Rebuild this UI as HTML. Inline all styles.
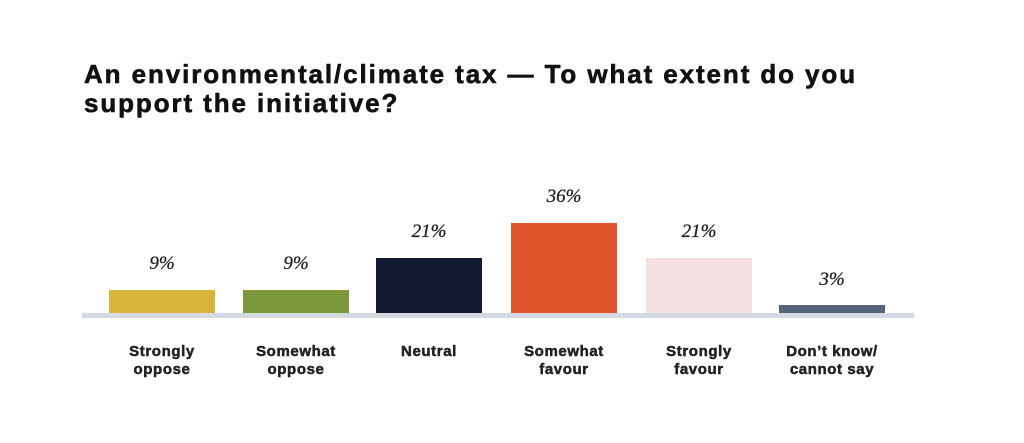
<!DOCTYPE html>
<html><head><meta charset="utf-8"><style>
body{margin:0;width:1024px;height:443px;background:#fff;position:relative;overflow:hidden;font-family:"Liberation Sans",sans-serif}
.t{position:absolute;left:84px;top:60px;font-size:26px;font-weight:900;color:#111;line-height:29px;letter-spacing:1.9px;-webkit-text-stroke:0.6px #111}
.b{position:absolute;width:106px}
.v{position:absolute;width:106px;text-align:center;font-family:"Liberation Serif",serif;font-style:italic;font-size:19px;color:#222;-webkit-text-stroke:0.3px #222}
.l{position:absolute;width:160px;text-align:center;font-weight:bold;font-size:15px;line-height:18px;color:#222;letter-spacing:0.6px;-webkit-text-stroke:0.5px #222}
.ax{position:absolute;left:82px;top:313px;width:832px;height:5px;background:#d5dae2}
</style></head><body>
<div class="t">An environmental/climate tax — To what extent do you<br>support the initiative?</div>
<div class="b" style="left:109px;top:290px;height:23px;background:#d9b43a"></div>
<div class="b" style="left:243px;top:290px;height:23px;background:#7b983b"></div>
<div class="b" style="left:376px;top:258px;height:55px;background:#151a33"></div>
<div class="b" style="left:511px;top:223px;height:90px;background:#e0552c"></div>
<div class="b" style="left:646px;top:258px;height:55px;background:#f6dfe0"></div>
<div class="b" style="left:779px;top:305px;height:8px;background:#56647a"></div>
<div class="ax"></div>
<div class="v" style="left:109px;top:253px">9%</div>
<div class="v" style="left:243px;top:253px">9%</div>
<div class="v" style="left:376px;top:221px">21%</div>
<div class="v" style="left:511px;top:186px">36%</div>
<div class="v" style="left:646px;top:221px">21%</div>
<div class="v" style="left:779px;top:269px">3%</div>
<div class="l" style="left:82px;top:343px">Strongly<br>oppose</div>
<div class="l" style="left:216px;top:343px">Somewhat<br>oppose</div>
<div class="l" style="left:349px;top:343px">Neutral</div>
<div class="l" style="left:484px;top:343px">Somewhat<br>favour</div>
<div class="l" style="left:619px;top:343px">Strongly<br>favour</div>
<div class="l" style="left:752px;top:343px">Don’t know/<br>cannot say</div>
</body></html>
